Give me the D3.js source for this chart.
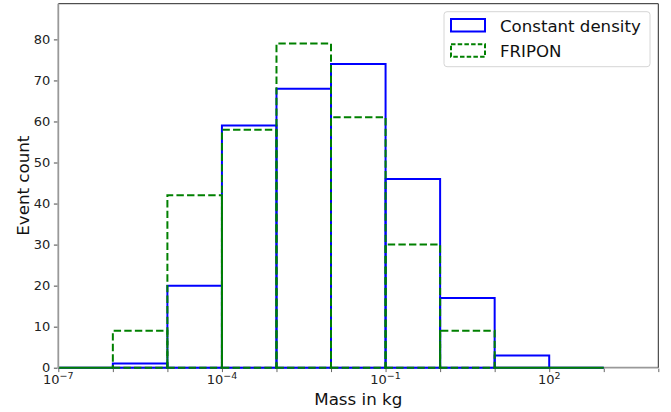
<!DOCTYPE html>
<html>
<head>
<meta charset="utf-8">
<script src="https://cdn.jsdelivr.net/npm/d3@7"></script>
<style>
  html, body { margin: 0; padding: 0; background: #fff; }
  svg { display: block; font-family: "DejaVu Sans", sans-serif; }
</style>
</head>
<body>
<svg id="chart" width="671" height="412"></svg>
<script>
// ---- Data ----
const binEdges = [1e-7, 1e-6, 1e-5, 1e-4, 1e-3, 1e-2, 1e-1, 1e0, 1e1, 1e2, 1e3];
const constantDensity = [0, 1, 20, 59, 68, 74, 46, 17, 3, 0];
const fripon = [0, 9, 42, 58, 79, 61, 30, 9, 0, 0];
const seriesNames = ["Constant density", "FRIPON"];
const yTicks = [0, 10, 20, 30, 40, 50, 60, 70, 80];
const xTicks = [1e-7, 1e-6, 1e-5, 1e-4, 1e-3, 1e-2, 1e-1, 1e0, 1e1, 1e2, 1e3, 1e4];
const xTickLabelExps = ["−7", "−4", "−1", "2"];
const xLabeledTicks = [1e-7, 1e-4, 1e-1, 1e2];
const xTitle = "Mass in kg";
const yTitle = "Event count";

// ---- Layout ----
const plot = { left: 58.3, right: 658.3, top: 3.7, bottom: 367.7 };
const svg = d3.select("#chart");

const x = d3.scaleLog().domain([1e-7, 1e4]).range([plot.left, plot.right]);
const y = d3.scaleLinear().domain([0, 88.7]).range([plot.bottom, plot.top]);

const blue = "#0000ff", green = "#008000";
const dash = "7.4,3.2";

// clip
svg.append("defs").append("clipPath").attr("id", "clip")
  .append("rect").attr("x", plot.left).attr("y", plot.top)
  .attr("width", plot.right - plot.left).attr("height", plot.bottom - plot.top + 2);

// bottom spine (under the bars)
svg.append("line").attr("x1", plot.left).attr("x2", plot.right)
  .attr("y1", plot.bottom).attr("y2", plot.bottom)
  .attr("stroke", "#999").attr("stroke-width", 1.8);

// bars as rectangle outlines (start at bottom-left like matplotlib)
function barPath(i, v) {
  const x0 = x(binEdges[i]), x1 = x(binEdges[i + 1]);
  const yb = y(0), yt = y(v);
  const p = d3.path();
  p.moveTo(x0, yb); p.lineTo(x1, yb); p.lineTo(x1, yt); p.lineTo(x0, yt); p.closePath();
  return p.toString();
}

const gBars = svg.append("g").attr("clip-path", "url(#clip)");
gBars.append("g").selectAll("path").data(constantDensity).join("path")
  .attr("d", (v, i) => barPath(i, v))
  .attr("fill", "none").attr("stroke", blue).attr("stroke-width", 2)
  .attr("stroke-linejoin", "miter");
gBars.append("g").selectAll("path").data(fripon).join("path")
  .attr("d", (v, i) => barPath(i, v))
  .attr("fill", "none").attr("stroke", green).attr("stroke-width", 2)
  .attr("stroke-dasharray", dash).attr("stroke-linejoin", "miter");

// spines
svg.append("line").attr("x1", plot.left).attr("x2", plot.right).attr("y1", plot.top).attr("y2", plot.top)
  .attr("stroke", "#262626").attr("stroke-width", 1);
svg.append("line").attr("x1", plot.right).attr("x2", plot.right).attr("y1", plot.top).attr("y2", plot.bottom)
  .attr("stroke", "#262626").attr("stroke-width", 1);
svg.append("line").attr("x1", plot.left).attr("x2", plot.left).attr("y1", plot.top).attr("y2", plot.bottom + 0.8)
  .attr("stroke", "#999").attr("stroke-width", 1.8);

// y axis
const yAxis = d3.axisLeft(y).tickValues(yTicks).tickSize(3.5).tickPadding(3.5).tickFormat(d3.format("d"));
const gy = svg.append("g").attr("transform", `translate(${plot.left - 0.9},0)`).call(yAxis);
gy.select(".domain").remove();
gy.selectAll(".tick line").attr("stroke", "#333").attr("stroke-width", 0.9);
gy.selectAll(".tick text").attr("font-family", "DejaVu Sans").attr("font-size", 13).attr("fill", "#222");

// x axis
const xAxis = d3.axisBottom(x).tickValues(xTicks).tickSize(3.5).tickPadding(4).tickFormat(() => "");
const gx = svg.append("g").attr("transform", `translate(0,${plot.bottom + 0.9})`).call(xAxis);
gx.select(".domain").remove();
gx.selectAll(".tick line").attr("stroke", "#555").attr("stroke-width", 0.9);

const xl = svg.append("g").selectAll("text").data(xLabeledTicks).join("text")
  .attr("x", d => x(d)).attr("y", 384.3)
  .attr("text-anchor", "middle").attr("font-size", 13).attr("fill", "#222");
xl.append("tspan").text("10");
xl.append("tspan").attr("dy", -5).attr("font-size", 9.5).text((d, i) => xTickLabelExps[i]);

// axis titles
svg.append("text").attr("x", (plot.left + plot.right) / 2).attr("y", 405)
  .attr("text-anchor", "middle").attr("font-size", 16.7).attr("fill", "#111").text(xTitle);
svg.append("text").attr("transform", `translate(28.5,${(plot.top + plot.bottom) / 2}) rotate(-90)`)
  .attr("text-anchor", "middle").attr("font-size", 16.7).attr("fill", "#111").text(yTitle);

// legend
const lg = svg.append("g");
lg.append("rect").attr("x", 444).attr("y", 11.7).attr("width", 206).attr("height", 55)
  .attr("rx", 3).attr("fill", "#fff").attr("fill-opacity", 0.8)
  .attr("stroke", "#d6d6d6").attr("stroke-width", 1);
const legendItems = [
  { name: seriesNames[0], color: blue, dash: null, y: 19 },
  { name: seriesNames[1], color: green, dash: "4.5,2.2", y: 44.3 }
];
legendItems.forEach(it => {
  const r = lg.append("rect").attr("x", 451).attr("y", it.y).attr("width", 34).attr("height", 12.5)
    .attr("fill", "none").attr("stroke", it.color).attr("stroke-width", 2);
  if (it.dash) r.attr("stroke-dasharray", it.dash);
  lg.append("text").attr("x", 500).attr("y", it.y + 12.8).attr("font-size", 16.6)
    .attr("fill", "#111").text(it.name);
});
</script>
</body>
</html>
